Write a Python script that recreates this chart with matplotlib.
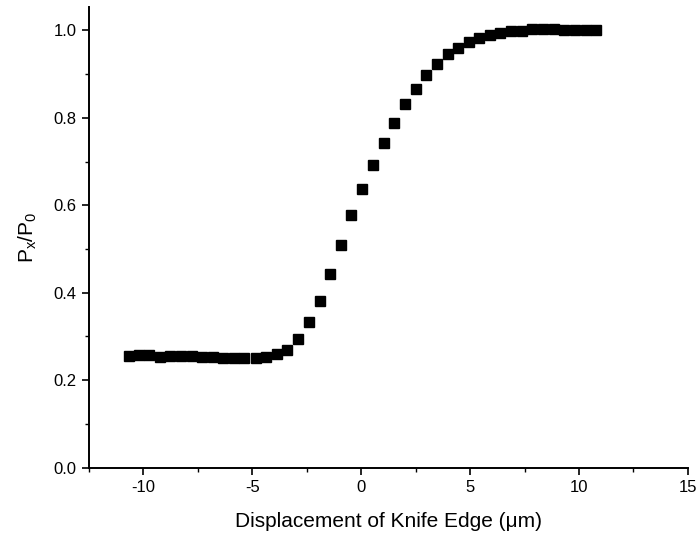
import matplotlib
matplotlib.use('Agg')
import matplotlib.pyplot as plt
from matplotlib.ticker import MultipleLocator

plt.rcParams['font.family'] = ['Liberation Sans', 'DejaVu Sans']
plt.rcParams['mathtext.fontset'] = 'custom'
plt.rcParams['mathtext.rm'] = 'Liberation Sans'
plt.rcParams['mathtext.it'] = 'Liberation Sans'
plt.rcParams['axes.unicode_minus'] = False

# knife-edge scan: displacement (um) and transmitted power ratio
displacement = [-10.66, -10.19, -9.73, -9.24, -8.78, -8.29, -7.78, -7.30, -6.82,
                -6.33, -5.84, -5.37, -4.85, -4.37, -3.88, -3.40, -2.89, -2.39,
                -1.89, -1.44, -0.94, -0.46, 0.03, 0.53, 1.04, 1.52, 2.01, 2.50,
                2.97, 3.46, 3.97, 4.46, 4.93, 5.42, 5.91, 6.38, 6.88, 7.37,
                7.85, 8.35, 8.84, 9.32, 9.81, 10.31, 10.78]
power_ratio = [0.255, 0.257, 0.257, 0.254, 0.255, 0.255, 0.255, 0.254, 0.254,
               0.250, 0.250, 0.250, 0.251, 0.252, 0.259, 0.270, 0.294, 0.334,
               0.381, 0.442, 0.510, 0.577, 0.637, 0.692, 0.743, 0.788, 0.831,
               0.865, 0.897, 0.922, 0.945, 0.960, 0.973, 0.982, 0.990, 0.995,
               0.998, 0.999, 1.002, 1.002, 1.002, 1.001, 1.001, 1.000, 1.000]

fig = plt.figure(figsize=(6.98, 5.38), dpi=100)
ax = fig.add_axes([0.1275, 0.1307, 0.858, 0.856])

ax.plot(displacement, power_ratio, linestyle='none', marker='s',
        markersize=6.6, color='black')

ax.set_xlim(-12.5, 15)
ax.set_ylim(0, 1.053)
ax.xaxis.set_major_locator(MultipleLocator(5))
ax.xaxis.set_minor_locator(MultipleLocator(2.5))
ax.yaxis.set_major_locator(MultipleLocator(0.2))
ax.yaxis.set_minor_locator(MultipleLocator(0.1))
ax.set_yticks(ax.get_yticks())
ax.set_yticklabels([f'{v:.1f}' for v in ax.get_yticks()])
ax.set_ylim(0, 1.053)

for side in ('top', 'right'):
    ax.spines[side].set_visible(False)
for side in ('left', 'bottom'):
    ax.spines[side].set_linewidth(1.4)

ax.tick_params(which='major', direction='out', length=5, width=1.2,
               labelsize=12, pad=4)
ax.tick_params(which='minor', direction='out', length=3, width=1.0)

ax.set_xlabel('Displacement of Knife Edge (\u03bcm)', fontsize=15, labelpad=12)
ax.set_ylabel(r'P$_\mathregular{x}$/P$_\mathregular{0}$', fontsize=15, labelpad=10)

fig.savefig('out.png', dpi=100)
